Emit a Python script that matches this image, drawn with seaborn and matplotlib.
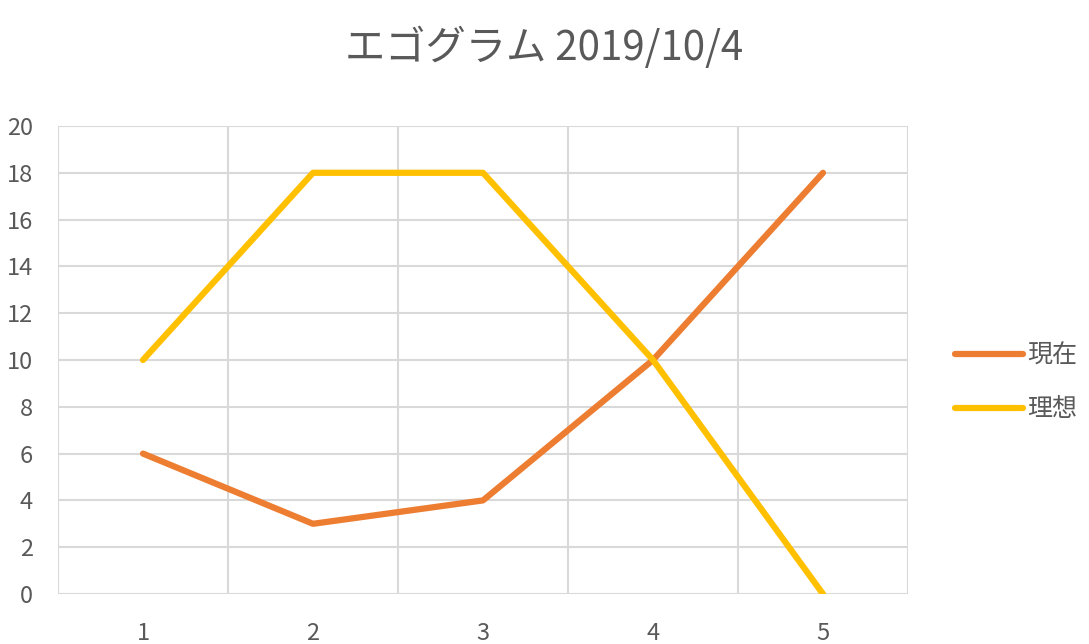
import seaborn as sns
import matplotlib.pyplot as plt
import pandas as pd

# data
categories = [1, 2, 3, 4, 5]
genzai = [6, 3, 4, 10, 18]    # 現在
risou = [10, 18, 18, 10, 0]   # 理想
series_names = ["現在", "理想"]
y_ticks = list(range(0, 21, 2))

df = pd.DataFrame({
    "x": categories * 2,
    "value": genzai + risou,
    "series": [series_names[0]] * len(categories) + [series_names[1]] * len(categories),
})

sns.set_style("white")
plt.rcParams["font.family"] = ["Noto Sans CJK JP", "DejaVu Sans"]

fig = plt.figure(figsize=(10.89, 6.44), dpi=100)
ax = fig.add_axes([58 / 1089, 1 - 594 / 644, 850 / 1089, 468 / 644])

sns.lineplot(data=df, x="x", y="value", hue="series", ax=ax,
             palette=["#ED7D31", "#FFC000"], linewidth=4.5,
             solid_capstyle="round", solid_joinstyle="round", legend=False)

ax.set_xlim(0.5, 5.5)
ax.set_ylim(0, 20)
ax.set_xticks(categories)
ax.set_xticks([0.5, 1.5, 2.5, 3.5, 4.5, 5.5], minor=True)
ax.set_yticks(y_ticks)
ax.grid(False)
ax.grid(True, which="minor", axis="x", color="#D9D9D9", linewidth=1.5)
ax.grid(True, which="major", axis="y", color="#D9D9D9", linewidth=1.5)
ax.set_axisbelow(True)
for s in ax.spines.values():
    s.set_visible(False)
ax.tick_params(which="both", length=0, labelsize=17, labelcolor="#595959")
ax.tick_params(axis="y", pad=18)
ax.tick_params(axis="x", pad=20)
ax.set_xlabel("")
ax.set_ylabel("")

fig.text(0.5, 1 - 48 / 644, "エゴグラム 2019/10/4", ha="center", va="center",
         fontsize=29, color="#595959")

handles = [plt.Line2D([], [], color=c, linewidth=4.5, solid_capstyle="round")
           for c in ["#ED7D31", "#FFC000"]]
leg = fig.legend(handles, series_names, loc="upper left",
                 bbox_to_anchor=(955 / 1089, 1 - 343 / 644), frameon=False,
                 fontsize=18, handlelength=2.7, handletextpad=0.2,
                 labelspacing=1.1, borderpad=0, borderaxespad=0)
for t in leg.get_texts():
    t.set_color("#595959")

fig.savefig("out.png", dpi=100)
